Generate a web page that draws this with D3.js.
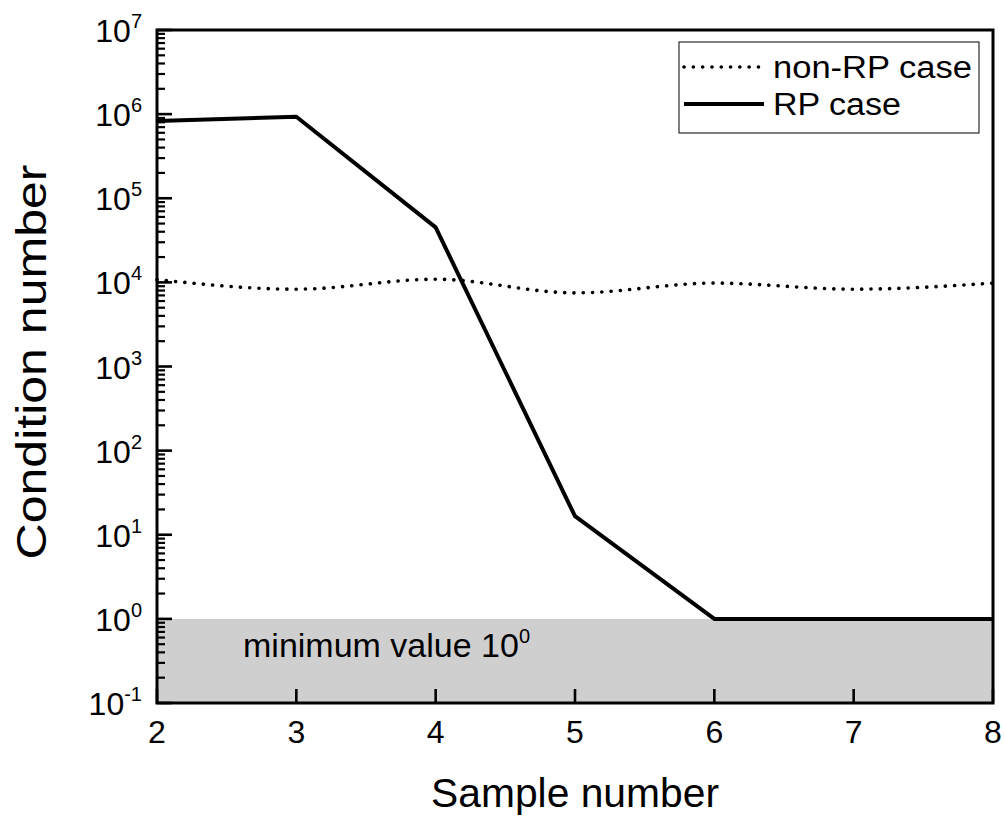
<!DOCTYPE html>
<html>
<head>
<meta charset="utf-8">
<script src="https://cdn.jsdelivr.net/npm/d3@7"></script>
<style>
  body { margin: 0; background: #fff; }
  text { font-family: "Liberation Sans", Arial, sans-serif; fill: #000; }
</style>
</head>
<body>
<div id="chart"></div>
<script>
// data
const samples = [2, 3, 4, 5, 6, 7, 8];
const rpCase = [8.3e5, 9.3e5, 4.5e4, 16.6, 1.0, 1.0, 1.0];
const nonRpCase = [1.08e4, 8.3e3, 1.09e4, 7.5e3, 9.8e3, 8.3e3, 9.8e3];
const xTicks = [2, 3, 4, 5, 6, 7, 8];
const yExponents = [-1, 0, 1, 2, 3, 4, 5, 6, 7];
const minValue = 1;

const FRAME_WIDTH = 1004;
const FRAME_HEIGHT = 816;
const MARGINS = { left: 157, right: 11, top: 30, bottom: 113 };

const svg = d3.select("#chart")
    .append("svg")
    .attr("width", FRAME_WIDTH)
    .attr("height", FRAME_HEIGHT);

const xScale = d3.scaleLinear()
    .domain([2, 8])
    .range([MARGINS.left, FRAME_WIDTH - MARGINS.right]);
const yScale = d3.scaleLog()
    .domain([0.1, 1e7])
    .range([FRAME_HEIGHT - MARGINS.bottom, MARGINS.top]);

const x0 = xScale.range()[0], x1 = xScale.range()[1];
const yTop = yScale.range()[1], yBot = yScale.range()[0];

// grey band below the minimum value
svg.append("rect")
    .attr("x", x0)
    .attr("y", yScale(minValue))
    .attr("width", x1 - x0)
    .attr("height", yBot - yScale(minValue))
    .attr("fill", "#cfcfcf");

svg.append("text")
    .attr("x", 243)
    .attr("y", 657)
    .attr("font-size", "34px")
    .text("minimum value 10")
    .append("tspan")
    .attr("dy", -14)
    .attr("font-size", "20px")
    .text("0");

// lines
const line = d3.line()
    .x((d, i) => xScale(samples[i]))
    .y(d => yScale(d));

svg.append("path")
    .datum(nonRpCase)
    .attr("d", line.curve(d3.curveMonotoneX))
    .attr("fill", "none")
    .attr("stroke", "#000")
    .attr("stroke-width", 3.6)
    .attr("stroke-linecap", "round")
    .attr("stroke-dasharray", "0.1 9.2");

svg.append("path")
    .datum(rpCase)
    .attr("d", line.curve(d3.curveLinear))
    .attr("fill", "none")
    .attr("stroke", "#000")
    .attr("stroke-width", 4)
    .attr("stroke-linejoin", "round");

// ticks, pointing inward
const majorY = yExponents.map(e => Math.pow(10, e));
const minorY = yScale.ticks().filter(v => {
    const m = v / Math.pow(10, Math.floor(Math.log10(v) + 1e-9));
    return Math.abs(m - 1) > 1e-6;
});

const ticks = svg.append("g").attr("stroke", "#000");
ticks.selectAll(".minor")
    .data(minorY)
    .enter()
    .append("line")
    .attr("class", "minor")
    .attr("x1", x0).attr("x2", x0 + 8)
    .attr("y1", d => yScale(d)).attr("y2", d => yScale(d))
    .attr("stroke-width", 2.2);
ticks.selectAll(".majorY")
    .data(majorY)
    .enter()
    .append("line")
    .attr("class", "majorY")
    .attr("x1", x0).attr("x2", x0 + 15)
    .attr("y1", d => yScale(d)).attr("y2", d => yScale(d))
    .attr("stroke-width", 2.6);
ticks.selectAll(".majorX")
    .data(xTicks)
    .enter()
    .append("line")
    .attr("class", "majorX")
    .attr("x1", d => xScale(d)).attr("x2", d => xScale(d))
    .attr("y1", yBot).attr("y2", yBot - 14)
    .attr("stroke-width", 2.6);

// frame
svg.append("rect")
    .attr("x", x0)
    .attr("y", yTop)
    .attr("width", x1 - x0)
    .attr("height", yBot - yTop)
    .attr("fill", "none")
    .attr("stroke", "#000")
    .attr("stroke-width", 3);

// tick labels
const yLabels = svg.append("g").selectAll("text")
    .data(yExponents)
    .enter()
    .append("text")
    .attr("x", 142)
    .attr("y", d => yScale(Math.pow(10, d)) + 12)
    .attr("text-anchor", "end")
    .attr("font-size", "32px");
yLabels.append("tspan").text("10");
yLabels.append("tspan")
    .attr("dy", -14)
    .attr("font-size", "20px")
    .text(d => d);

svg.append("g").selectAll("text")
    .data(xTicks)
    .enter()
    .append("text")
    .attr("x", d => xScale(d))
    .attr("y", 743)
    .attr("text-anchor", "middle")
    .attr("font-size", "32px")
    .text(d => d);

// axis titles
svg.append("text")
    .attr("x", (x0 + x1) / 2)
    .attr("y", 807)
    .attr("text-anchor", "middle")
    .attr("font-size", "40px")
    .attr("textLength", 288)
    .attr("lengthAdjust", "spacingAndGlyphs")
    .text("Sample number");

svg.append("text")
    .attr("transform", "translate(46," + 362 + ") rotate(-90)")
    .attr("text-anchor", "middle")
    .attr("font-size", "42px")
    .attr("textLength", 395)
    .attr("lengthAdjust", "spacingAndGlyphs")
    .text("Condition number");

// legend
const legend = svg.append("g");
legend.append("rect")
    .attr("x", 679)
    .attr("y", 42)
    .attr("width", 300)
    .attr("height", 91)
    .attr("fill", "#fff")
    .attr("stroke", "#000")
    .attr("stroke-width", 1);

const legendItems = [
    { label: "non-RP case", dash: "0.1 9.2", width: 3.6, y: 67, ty: 78, len: 199 },
    { label: "RP case", dash: null, width: 4, y: 104, ty: 115, len: 128 }
];
legendItems.forEach(d => {
    legend.append("line")
        .attr("x1", 684).attr("x2", 764)
        .attr("y1", d.y).attr("y2", d.y)
        .attr("stroke", "#000")
        .attr("stroke-width", d.width)
        .attr("stroke-linecap", d.dash ? "round" : "butt")
        .attr("stroke-dasharray", d.dash);
    legend.append("text")
        .attr("x", 773)
        .attr("y", d.ty)
        .attr("font-size", "31px")
        .attr("textLength", d.len)
        .attr("lengthAdjust", "spacingAndGlyphs")
        .text(d.label);
});
</script>
</body>
</html>
